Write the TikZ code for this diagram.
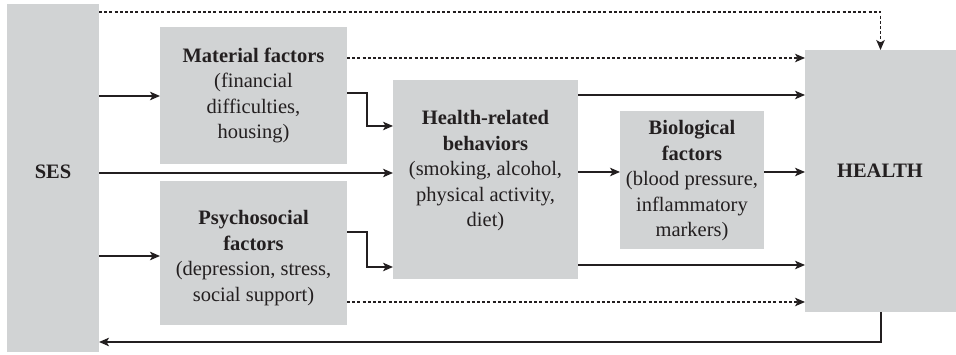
\documentclass[tikz,border=0pt]{standalone}
\usepackage{fontspec}
\setmainfont{Liberation Serif}
\usetikzlibrary{arrows.meta,calc}
\definecolor{boxgray}{RGB}{209,211,212}
\definecolor{ink}{RGB}{35,31,32}

\begin{document}
\begin{tikzpicture}[x=1pt,y=-1pt,
  box/.style={fill=boxgray, draw=none, inner sep=0pt, outer sep=0pt},
  lbl/.style={text=ink, align=center, inner sep=0pt,
              font=\fontsize{20.5}{25.5}\selectfont},
  conn/.style={draw=ink, line width=1.2pt,
               -{Stealth[length=10pt,width=8.5pt,inset=2.5pt]}},
  dotconn/.style={conn, dash pattern=on 3pt off 2.2pt}]
\useasboundingbox (0,0) rectangle (956,355);

% grey boxes
\node[box, minimum width=92pt,  minimum height=348pt] (ses) at (53,178) {};
\node[box, minimum width=187pt, minimum height=137pt] (mat) at (253.5,95.5) {};
\node[box, minimum width=187pt, minimum height=144pt] (psy) at (253.5,253) {};
\node[box, minimum width=185pt, minimum height=199pt] (hrb) at (485.5,179.5) {};
\node[box, minimum width=144pt, minimum height=138pt] (bio) at (692,180) {};
\node[box, minimum width=151pt, minimum height=262pt] (hlt) at (880.5,181) {};

% labels
\node[lbl] (sest) at (53,172) {\textbf{SES}};
\node[lbl] (matt) at (253.5,95.5) {\textbf{Material factors}\\(financial\\difficulties,\\housing)};
\node[lbl] (psyt) at (253.5,258) {\textbf{Psychosocial}\\\textbf{factors}\\(depression, stress,\\social support)};
\node[lbl] (hrbt) at (485.5,171) {\textbf{Health-related}\\\textbf{behaviors}\\(smoking, alcohol,\\physical activity,\\diet)};
\node[lbl] (biot) at (692,181) {\textbf{Biological}\\\textbf{factors}\\(blood pressure,\\inflammatory\\markers)};
\node[lbl] (hltt) at (880,171) {\textbf{HEALTH}};

% level coordinates
\coordinate (ytop) at (0,12);
\coordinate (xelb) at (367,0);

% direct SES path to HEALTH
\draw[dotconn] (ses.east |- ytop) -| (hlt.north);

% material pathway
\draw[dotconn] (mat.east |- 0,58) -- (hlt.west |- 0,58);
\draw[conn] (ses.east |- 0,96) -- (mat.west |- 0,96);
\draw[conn] (mat.east |- 0,93) -- (xelb |- 0,93) -- (xelb |- 0,126) -- (hrb.west |- 0,126);

% behaviours
\draw[conn] (hrb.east |- 0,95) -- (hlt.west |- 0,95);
\draw[conn] (ses.east |- 0,173) -- (hrb.west |- 0,173);
\draw[conn] (hrb.east |- 0,172) -- (bio.west |- 0,172);
\draw[conn] (bio.east |- 0,172) -- (hlt.west |- 0,172);
\draw[conn] (hrb.east |- 0,265) -- (hlt.west |- 0,265);

% psychosocial pathway
\draw[conn] (ses.east |- 0,256) -- (psy.west |- 0,256);
\draw[conn] (psy.east |- 0,232) -- (xelb |- 0,232) -- (xelb |- 0,267) -- (hrb.west |- 0,267);
\draw[dotconn] (psy.east |- 0,302) -- (hlt.west |- 0,302);

% feedback from HEALTH to SES
\coordinate (fb) at (881,342);
\draw[conn] (hlt.south -| fb) -- (fb) -- (ses.east |- fb);
\end{tikzpicture}
\end{document}
